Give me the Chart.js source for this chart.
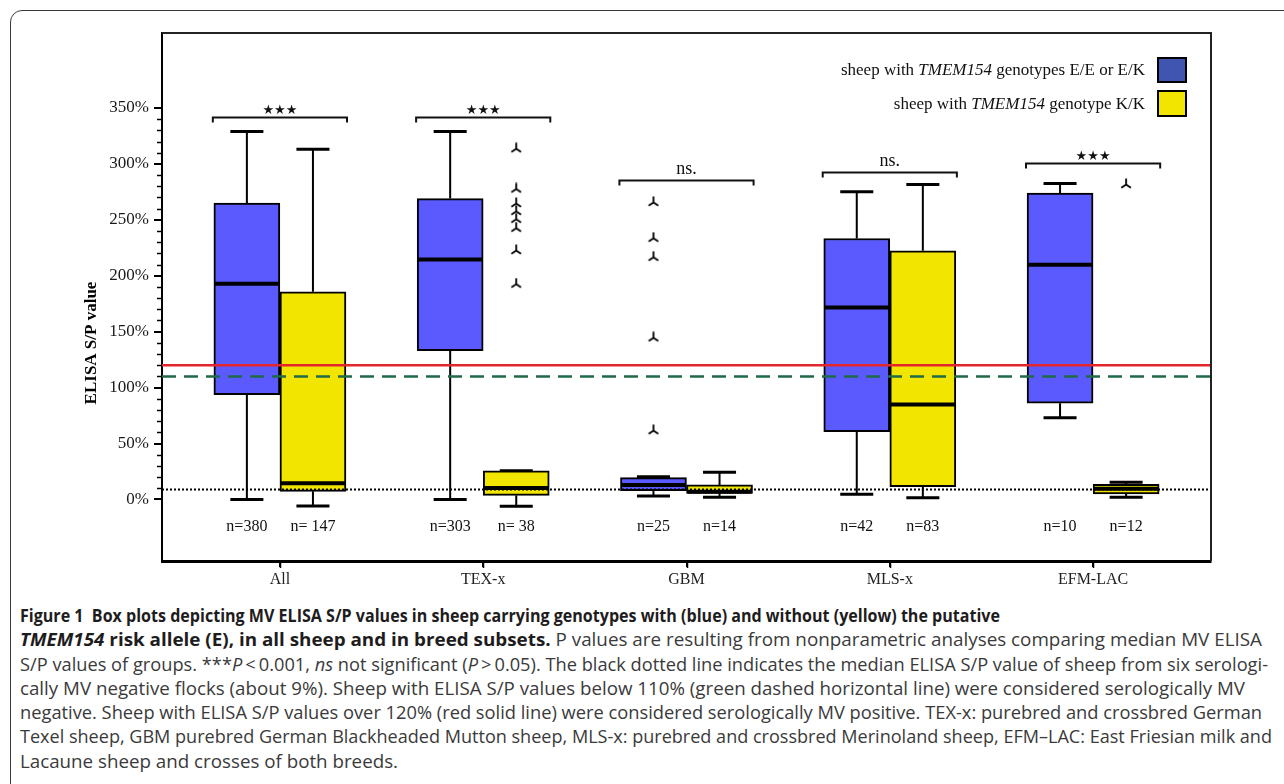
<!DOCTYPE html>
<html>
<head>
<meta charset="utf-8">
<script src="https://cdn.jsdelivr.net/npm/chart.js@4.4.1/dist/chart.umd.min.js"></script>
<style>
html,body{margin:0;padding:0;background:#fff;width:1284px;height:784px;overflow:hidden;position:relative;}
#frame{position:absolute;left:10px;top:10px;width:1310px;height:810px;border:1.5px solid #3a3a3a;border-radius:12px;box-sizing:border-box;}
#wrap{position:absolute;left:0;top:0;width:1284px;height:600px;}
#legend{position:absolute;left:0;top:0;width:1284px;height:130px;pointer-events:none;}
.lrow{position:absolute;right:97px;display:flex;align-items:center;font-family:"Liberation Serif","DejaVu Serif",serif;font-size:17px;color:#111;white-space:nowrap;}
.sw{display:inline-block;width:30px;border:2px solid #000;box-sizing:border-box;margin-left:12px;}
#caption{position:absolute;left:20px;top:603px;font-family:"Open Sans","Liberation Sans",sans-serif;font-size:18.5px;line-height:24.3px;color:#3a3a3a;}
#caption .ln{display:block;white-space:nowrap;width:max-content;transform-origin:0 50%;height:24.3px;}
#caption b{color:#1e1c1d;}
</style>
</head>
<body>
<div id="frame"></div>
<div id="wrap"><canvas id="c" width="1284" height="600"></canvas></div>
<div id="legend"></div>
<div id="caption">
<span class="ln" data-w="980"><b>Figure 1&nbsp;&nbsp;Box plots depicting MV ELISA S/P values in sheep carrying genotypes with (blue) and without (yellow) the putative</b></span>
<span class="ln" data-w="1242"><b><i>TMEM154</i> risk allele (E), in all sheep and in breed subsets.</b> P values are resulting from nonparametric analyses comparing median MV ELISA</span>
<span class="ln" data-w="1248">S/P values of groups. ***<i>P</i>&#8201;&lt;&#8201;0.001, <i>ns</i> not significant (<i>P</i>&#8201;&gt;&#8201;0.05). The black dotted line indicates the median ELISA S/P value of sheep from six serologi-</span>
<span class="ln" data-w="1225">cally MV negative flocks (about 9%). Sheep with ELISA S/P values below 110% (green dashed horizontal line) were considered serologically MV</span>
<span class="ln" data-w="1242">negative. Sheep with ELISA S/P values over 120% (red solid line) were considered serologically MV positive. TEX-x: purebred and crossbred German</span>
<span class="ln" data-w="1252">Texel sheep, GBM purebred German Blackheaded Mutton sheep, MLS-x: purebred and crossbred Merinoland sheep, EFM–LAC: East Friesian milk and</span>
<span class="ln" data-w="378">Lacaune sheep and crosses of both breeds.</span>
</div>
<script>
// ---------------- DATA ----------------
const categories = ['All', 'TEX-x', 'GBM', 'MLS-x', 'EFM-LAC'];
const seriesNames = ['sheep with TMEM154 genotypes E/E or E/K', 'sheep with TMEM154 genotype K/K'];
const geneName = 'TMEM154';

// E/E or E/K (blue)
const blueMin    = [0,     0,     3.1,  4.6,   73];
const blueQ1     = [93.6,  133,   7.9,  60.6,  86];
const blueMedian = [192.8, 214.6, 13,   171.7, 209.8];
const blueQ3     = [265,   269,   19.5, 233.3, 274];
const blueMax    = [329,   329,   20.4, 275,   282.5];
const blueOutliers = [[], [], [266, 234, 217, 145, 62], [], []];

// K/K (yellow)
const yellowMin    = [-5.8,  -6,   2,    1.6,   2];
const yellowQ1     = [7.3,   3.7,  5.5,  11.4,  4.9];
const yellowMedian = [14.5,  10.3, 7,    85,    9.5];
const yellowQ3     = [185.6, 25.7, 13,   222.3, 13.6];
const yellowMax    = [313,   25.7, 24.3, 281.6, 15.4];
const yellowOutliers = [[], [314, 278, 265, 258, 251, 243, 223, 193], [], [], [282]];

const nBlue   = ['n=380', 'n=303', 'n=25', 'n=42', 'n=10'];
const nYellow = ['n= 147', 'n= 38', 'n=14', 'n=83', 'n=12'];
const sigLabels  = ['***', '***', 'ns.', 'ns.', '***'];
const sigBracket = [342, 342, 286, 293, 301];

const yTickValues = [0, 50, 100, 150, 200, 250, 300, 350];
const yMinorStep = 10;
const yTitle = 'ELISA S/P value';
const positiveCutoff = 120;
const negativeCutoff = 110;
const negativeFlockMedian = 9;

// ---------------- STYLE / LAYOUT ----------------
const X_MIN = 0.42, X_MAX = 5.58, Y_MIN = -55, Y_MAX = 417;
const BOX_HALF = 0.1625;          // offset of each box from category centre
const BLUE = '#5a5aff', YELLOW = '#f2e600', LEGEND_BLUE = '#4055b0';
const N_LABEL_Y = -24.6;
const SERIF = '"Liberation Serif","DejaVu Serif",serif';

// legend (HTML, mixed italic)
const legendColors = [LEGEND_BLUE, YELLOW];
const legendTops = [57, 90];
const legendH = [26, 27];
const lg = document.getElementById('legend');
seriesNames.forEach((name, i) => {
  const row = document.createElement('div');
  row.className = 'lrow';
  row.style.top = legendTops[i] + 'px';
  row.style.height = legendH[i] + 'px';
  const t = document.createElement('span');
  t.innerHTML = name.replace(geneName, '<i>' + geneName + '</i>');
  const sw = document.createElement('span');
  sw.className = 'sw';
  sw.style.height = legendH[i] + 'px';
  sw.style.background = legendColors[i];
  row.appendChild(t); row.appendChild(sw);
  lg.appendChild(row);
});

function makeMarker() {
  const c = document.createElement('canvas');
  c.width = 12; c.height = 12;
  const g = c.getContext('2d');
  g.strokeStyle = '#000'; g.lineWidth = 1.8;
  g.beginPath();
  g.moveTo(6, 0.5); g.lineTo(6, 6.5);
  g.moveTo(6, 6.5); g.lineTo(1.2, 9.8);
  g.moveTo(6, 6.5); g.lineTo(10.8, 9.8);
  g.stroke();
  return c;
}
const marker = makeMarker();

function outlierPoints(list, off) {
  const pts = [];
  list.forEach((arr, i) => arr.forEach(v => pts.push({x: i + 1 + off, y: v})));
  return pts;
}

const boxPlugin = {
  id: 'boxParts',
  beforeDatasetsDraw(chart) {
    const ctx = chart.ctx, xs = chart.scales.x, ys = chart.scales.y;
    ctx.save();
    ctx.strokeStyle = '#000';
    const groups = [
      {off: -BOX_HALF, mn: blueMin, q1: blueQ1, q3: blueQ3, mx: blueMax},
      {off: BOX_HALF, mn: yellowMin, q1: yellowQ1, q3: yellowQ3, mx: yellowMax}
    ];
    groups.forEach(g => {
      categories.forEach((c, i) => {
        const cx = xs.getPixelForValue(i + 1 + g.off);
        const capHalf = (xs.getPixelForValue(i + 1 + g.off + BOX_HALF / 2) - cx);
        const yMx = ys.getPixelForValue(g.mx[i]), yMn = ys.getPixelForValue(g.mn[i]);
        ctx.lineWidth = 2;
        ctx.beginPath();
        ctx.moveTo(cx, ys.getPixelForValue(g.q3[i])); ctx.lineTo(cx, yMx);
        ctx.moveTo(cx, ys.getPixelForValue(g.q1[i])); ctx.lineTo(cx, yMn);
        ctx.stroke();
        ctx.lineWidth = 3;
        ctx.beginPath();
        ctx.moveTo(cx - capHalf, yMx); ctx.lineTo(cx + capHalf, yMx);
        ctx.moveTo(cx - capHalf, yMn); ctx.lineTo(cx + capHalf, yMn);
        ctx.stroke();
      });
    });
    ctx.restore();
  },
  afterDatasetsDraw(chart) {
    const ctx = chart.ctx, xs = chart.scales.x, ys = chart.scales.y;
    ctx.save();
    // medians
    ctx.strokeStyle = '#000'; ctx.lineWidth = 4;
    categories.forEach((c, i) => {
      let y = ys.getPixelForValue(blueMedian[i]);
      ctx.beginPath();
      ctx.moveTo(xs.getPixelForValue(i + 1 - 2 * BOX_HALF) + 1, y);
      ctx.lineTo(xs.getPixelForValue(i + 1) - 1, y);
      ctx.stroke();
      y = ys.getPixelForValue(yellowMedian[i]);
      ctx.beginPath();
      ctx.moveTo(xs.getPixelForValue(i + 1) + 1, y);
      ctx.lineTo(xs.getPixelForValue(i + 1 + 2 * BOX_HALF) - 1, y);
      ctx.stroke();
    });
    // significance brackets
    ctx.lineWidth = 2; ctx.strokeStyle = '#111'; ctx.fillStyle = '#111';
    categories.forEach((c, i) => {
      const y = Math.round(ys.getPixelForValue(sigBracket[i])) + 0.5;
      const x1 = xs.getPixelForValue(i + 1 - 0.33), x2 = xs.getPixelForValue(i + 1 + 0.33);
      ctx.beginPath();
      ctx.moveTo(x1, y + 5); ctx.lineTo(x1, y); ctx.lineTo(x2, y); ctx.lineTo(x2, y + 5);
      ctx.stroke();
      const cx = xs.getPixelForValue(i + 1);
      ctx.textAlign = 'center';
      if (sigLabels[i] === '***') {
        ctx.font = '13px "DejaVu Sans",sans-serif';
        ctx.textBaseline = 'middle';
        ctx.fillText('\u2605\u2605\u2605', cx, y - 7);
      } else {
        ctx.font = '18px ' + SERIF;
        ctx.textBaseline = 'alphabetic';
        ctx.fillText(sigLabels[i], cx, y - 7);
      }
    });
    // n labels
    ctx.font = '16px ' + SERIF; ctx.fillStyle = '#111';
    ctx.textAlign = 'center'; ctx.textBaseline = 'middle';
    categories.forEach((c, i) => {
      const y = ys.getPixelForValue(N_LABEL_Y);
      ctx.fillText(nBlue[i], xs.getPixelForValue(i + 1 - BOX_HALF), y);
      ctx.fillText(nYellow[i], xs.getPixelForValue(i + 1 + BOX_HALF), y);
    });
    ctx.restore();
  },
  afterDraw(chart) {
    const ctx = chart.ctx, xs = chart.scales.x, ys = chart.scales.y, a = chart.chartArea;
    ctx.save();
    // frame top/right
    ctx.strokeStyle = '#222'; ctx.lineWidth = 2;
    ctx.beginPath();
    ctx.moveTo(a.left, a.top); ctx.lineTo(a.right, a.top); ctx.lineTo(a.right, a.bottom);
    ctx.stroke();
    // x category tick marks
    ctx.strokeStyle = '#000'; ctx.lineWidth = 1.5;
    categories.forEach((c, i) => {
      const x = Math.round(xs.getPixelForValue(i + 1)) + 0.5;
      ctx.beginPath(); ctx.moveTo(x, a.bottom); ctx.lineTo(x, a.bottom + 7); ctx.stroke();
    });
    // minor ticks
    ctx.lineWidth = 1.5; ctx.strokeStyle = '#000';
    const lo = yTickValues[0], hi = yTickValues[yTickValues.length - 1];
    for (let v = lo; v <= hi; v += yMinorStep) {
      if (yTickValues.includes(v)) continue;
      const y = Math.round(ys.getPixelForValue(v)) + 0.5;
      ctx.beginPath(); ctx.moveTo(a.left - 5, y); ctx.lineTo(a.left, y); ctx.stroke();
    }
    // y title
    ctx.translate(92, 343);
    ctx.rotate(-Math.PI / 2);
    ctx.font = 'bold 17px ' + SERIF;
    ctx.fillStyle = '#000'; ctx.textAlign = 'center'; ctx.textBaseline = 'middle';
    ctx.fillText(yTitle, 0, 0);
    ctx.restore();
  }
};

const refLine = (v, color, width, dash) => ({
  type: 'line', data: [{x: X_MIN, y: v}, {x: X_MAX, y: v}],
  borderColor: color, borderWidth: width, borderDash: dash, pointRadius: 0, order: 0, tension: 0
});

new Chart(document.getElementById('c'), {
  type: 'bar',
  data: {
    datasets: [
      {label: seriesNames[0], data: categories.map((c, i) => ({x: i + 1 - BOX_HALF, y: [blueQ1[i], blueQ3[i]]})),
       backgroundColor: BLUE, borderColor: '#000', borderWidth: 2, borderSkipped: false, barThickness: 66, grouped: false, order: 2},
      {label: seriesNames[1], data: categories.map((c, i) => ({x: i + 1 + BOX_HALF, y: [yellowQ1[i], yellowQ3[i]]})),
       backgroundColor: YELLOW, borderColor: '#000', borderWidth: 2, borderSkipped: false, barThickness: 66, grouped: false, order: 2},
      refLine(positiveCutoff, '#e3262b', 2.5, []),
      refLine(negativeCutoff, '#1f6a48', 2.5, [14, 8]),
      refLine(negativeFlockMedian, '#000', 2, [2, 2]),
      {type: 'scatter', data: outlierPoints(blueOutliers, -BOX_HALF), pointStyle: marker, pointRadius: 6, order: 1},
      {type: 'scatter', data: outlierPoints(yellowOutliers, BOX_HALF), pointStyle: marker, pointRadius: 6, order: 1}
    ]
  },
  options: {
    responsive: false, animation: false,
    layout: {padding: {left: 0, top: 33, right: 73, bottom: 0}},
    plugins: {legend: {display: false}, tooltip: {enabled: false}},
    scales: {
      x: {
        type: 'linear', min: X_MIN, max: X_MAX, offset: false,
        afterBuildTicks: s => { s.ticks = categories.map((c, i) => ({value: i + 1})); },
        afterFit: s => { s.height = 39; },
        ticks: {callback: v => categories[Math.round(v) - 1] ?? '', font: {family: SERIF, size: 16}, color: '#222', padding: 3, autoSkip: false, maxRotation: 0},
        grid: {offset: false, drawOnChartArea: false, drawTicks: true, tickLength: 6, color: '#000', lineWidth: 1.5},
        border: {display: true, color: '#000', width: 3}
      },
      y: {
        min: Y_MIN, max: Y_MAX,
        afterBuildTicks: s => { s.ticks = yTickValues.map(v => ({value: v})); },
        afterFit: s => { s.width = 162; },
        ticks: {callback: v => v + '%', font: {family: SERIF, size: 17}, color: '#1a1a1a', padding: 5, autoSkip: false},
        grid: {drawOnChartArea: false, drawTicks: true, tickLength: 8, color: '#000', lineWidth: 2},
        border: {display: true, color: '#000', width: 2}
      }
    }
  },
  plugins: [boxPlugin]
});

// fit caption lines to the reference widths
function fitCaption() {
  document.querySelectorAll('#caption .ln').forEach(el => {
    el.style.transform = 'none';
    const w = el.getBoundingClientRect().width;
    const target = +el.dataset.w;
    if (w > 0) el.style.transform = 'scaleX(' + (target / w) + ')';
  });
}
fitCaption();
if (document.fonts && document.fonts.ready) document.fonts.ready.then(fitCaption);
</script>
</body>
</html>
